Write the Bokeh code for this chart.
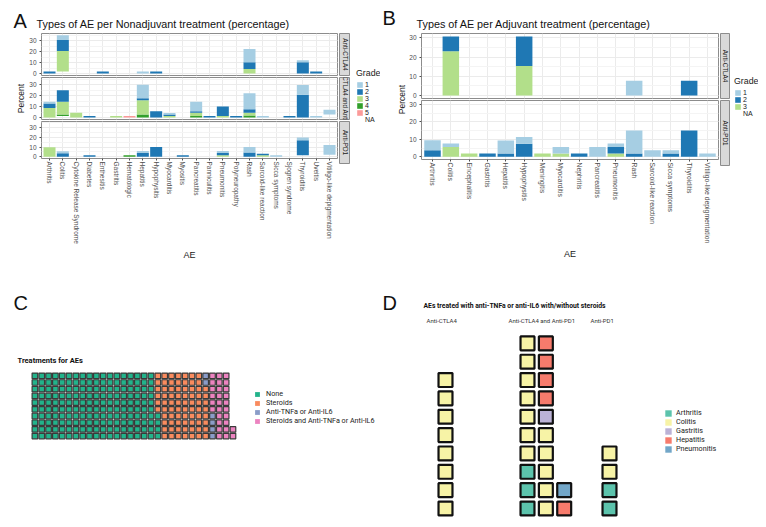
import numpy as np
from bokeh.plotting import figure
from bokeh.models import (ColumnDataSource, FactorRange, Range1d, Legend, LegendItem,
                          SingleIntervalTicker, Spacer)
from bokeh.layouts import row, column
from bokeh.embed import file_html
from bokeh.resources import INLINE
from bokeh.core.properties import value

# ---------------------------------------------------------------- data
ae_nonadjuvant = ["Arthritis", "Colitis", "Cytokine Release Syndrome", "Diabetes", "Enthesitis",
                  "Gastritis", "Hematologic", "Hepatitis", "Hypophysitis", "Myocarditis",
                  "Myositis", "Pancreatitis", "Panniculitis", "Pneumonitis", "Polyneuropathy",
                  "Rash", "Sarcoid-like reaction", "Sicca symptoms", "Sjogren syndrome",
                  "Thyroiditis", "Uveitis", "Vitiligo-like depigmentation"]
ae_adjuvant = ["Arthritis", "Colitis", "Encephalitis", "Gastritis", "Hepatitis", "Hypophysitis",
               "Meningitis", "Myocarditis", "Nephritis", "Pancreatitis", "Pneumonitis", "Rash",
               "Sarcoid-like reaction", "Sicca symptoms", "Thyroiditis",
               "Vitiligo-like depigmentation"]

grades_nonadj = ["1", "2", "3", "4", "5", "NA"]
grades_adj = ["1", "2", "3", "NA"]
grade_palette = ["#A6CEE3", "#1F78B4", "#B2DF8A", "#33A02C", "#FB9A99", "#FFFFFF"]

# facet strip labels (the middle one is shown cropped by its strip, as in the source)
strips_nonadj = ["Anti-CTLA4", "CTLA4 and Anti", "Anti-PD1"]
strips_adj = ["Anti-CTLA4", "Anti-PD1"]

# (AE, grade, percent)
nonadj_anti_ctla4 = [
    ("Arthritis", "2", 2.0),
    ("Colitis", "NA", 2.0), ("Colitis", "3", 18.4), ("Colitis", "2", 10.2), ("Colitis", "1", 4.1),
    ("Enthesitis", "2", 2.0),
    ("Hepatitis", "1", 2.0),
    ("Hypophysitis", "2", 2.0),
    ("Rash", "3", 4.1), ("Rash", "2", 6.1), ("Rash", "1", 12.2),
    ("Thyroiditis", "2", 10.2), ("Thyroiditis", "1", 2.0),
    ("Uveitis", "2", 2.0),
]
nonadj_combo = [
    ("Arthritis", "3", 8.6), ("Arthritis", "2", 4.3), ("Arthritis", "1", 1.4),
    ("Colitis", "NA", 1.4), ("Colitis", "4", 1.4), ("Colitis", "3", 11.5), ("Colitis", "2", 10.5),
    ("Cytokine Release Syndrome", "3", 4.3),
    ("Diabetes", "2", 1.4),
    ("Gastritis", "3", 1.4),
    ("Hematologic", "5", 1.4),
    ("Hepatitis", "4", 2.9), ("Hepatitis", "3", 12.9), ("Hepatitis", "2", 1.8), ("Hepatitis", "1", 12.3),
    ("Hypophysitis", "2", 5.7),
    ("Myocarditis", "3", 1.4), ("Myocarditis", "2", 1.4), ("Myocarditis", "1", 1.4),
    ("Pancreatitis", "4", 1.4), ("Pancreatitis", "3", 2.9), ("Pancreatitis", "2", 1.4),
    ("Pancreatitis", "1", 8.6),
    ("Panniculitis", "2", 1.4),
    ("Pneumonitis", "3", 1.4), ("Pneumonitis", "2", 8.6),
    ("Polyneuropathy", "2", 1.4),
    ("Rash", "4", 2.0), ("Rash", "3", 2.5), ("Rash", "2", 3.0), ("Rash", "1", 14.6),
    ("Sarcoid-like reaction", "1", 1.4),
    ("Sjogren syndrome", "2", 1.4),
    ("Thyroiditis", "2", 20.7), ("Thyroiditis", "1", 9.0),
    ("Uveitis", "1", 1.4),
    ("Vitiligo-like depigmentation", "NA", 2.9), ("Vitiligo-like depigmentation", "1", 4.3),
]
nonadj_anti_pd1 = [
    ("Arthritis", "3", 9.9),
    ("Colitis", "2", 3.8), ("Colitis", "1", 2.0),
    ("Diabetes", "2", 1.7),
    ("Hematologic", "4", 1.7),
    ("Hepatitis", "2", 3.9), ("Hepatitis", "1", 2.0),
    ("Hypophysitis", "2", 10.0),
    ("Myositis", "2", 1.7),
    ("Pneumonitis", "3", 1.7), ("Pneumonitis", "2", 2.3), ("Pneumonitis", "1", 2.0),
    ("Rash", "2", 4.5), ("Rash", "1", 5.5),
    ("Sarcoid-like reaction", "3", 1.5), ("Sarcoid-like reaction", "2", 1.7),
    ("Sicca symptoms", "1", 1.7),
    ("Thyroiditis", "NA", 1.7), ("Thyroiditis", "2", 15.5), ("Thyroiditis", "1", 2.6),
    ("Vitiligo-like depigmentation", "NA", 2.0), ("Vitiligo-like depigmentation", "1", 10.3),
]
adj_anti_ctla4 = [
    ("Colitis", "3", 23.1), ("Colitis", "2", 7.7),
    ("Hypophysitis", "3", 15.4), ("Hypophysitis", "2", 15.4),
    ("Rash", "1", 7.7),
    ("Thyroiditis", "2", 7.7),
]
adj_anti_pd1 = [
    ("Arthritis", "2", 3.8), ("Arthritis", "1", 5.7),
    ("Colitis", "3", 5.7), ("Colitis", "1", 1.9),
    ("Encephalitis", "3", 1.9),
    ("Gastritis", "2", 1.9),
    ("Hepatitis", "2", 1.9), ("Hepatitis", "1", 7.5),
    ("Hypophysitis", "2", 7.5), ("Hypophysitis", "1", 3.8),
    ("Meningitis", "3", 1.9),
    ("Myocarditis", "3", 1.9), ("Myocarditis", "1", 3.8),
    ("Nephritis", "2", 1.9),
    ("Pancreatitis", "1", 5.7),
    ("Pneumonitis", "3", 1.9), ("Pneumonitis", "2", 3.8), ("Pneumonitis", "1", 1.9),
    ("Rash", "2", 1.9), ("Rash", "1", 13.2),
    ("Sarcoid-like reaction", "1", 3.8),
    ("Sicca symptoms", "2", 1.9), ("Sicca symptoms", "1", 1.9),
    ("Thyroiditis", "2", 15.1),
    ("Vitiligo-like depigmentation", "1", 1.9),
]

treatments = ["None", "Steroids", "Anti-TNFa or Anti-IL6", "Steroids and Anti-TNFa or Anti-IL6"]
treatment_counts = [184, 74, 6, 28]
treatment_colors = ["#22B38B", "#F98B5E", "#8A9CC8", "#EC83C0"]

d_groups = ["Anti-CTLA4", "Anti-CTLA4 and Anti-PD1", "Anti-PD1"]
d_aes = ["Arthritis", "Colitis", "Gastritis", "Hepatitis", "Pneumonitis"]
d_counts_anti_ctla4 = [0, 8, 0, 0, 0]
d_counts_combo = [3, 12, 1, 5, 1]
d_counts_anti_pd1 = [2, 2, 0, 0, 0]
d_colors = ["#5CC3AC", "#F7F3A6", "#BBB2D6", "#F77B6C", "#72A6C8"]

# ---------------------------------------------------------------- helpers
FONT = "Liberation Sans"
WFONT = "Roboto"
COMMON = dict(output_backend="svg", toolbar_location=None, border_fill_color="white", title=None)
NAN = [np.nan]


def canvas(w, h, bg="white", outline=None, bottom=0):
    c = figure(width=w, height=h, x_range=Range1d(0, w), y_range=Range1d(0, h - bottom),
               x_axis_location=None, y_axis_location=None, min_border=0,
               min_border_bottom=bottom, background_fill_color=bg,
               outline_line_color=outline, **COMMON)
    c.grid.visible = False
    return c


def stack_source(cats, recs, levels):
    data = {"AE": list(cats)}
    for g in levels:
        data["g" + g] = [0.0] * len(cats)
    for ae, g, v in recs:
        data["g" + g][cats.index(ae)] += v
    return ColumnDataSource(data)


def facet(cats, recs, levels, yr, frame_w, frame_h, left, bottom, show_x, xfont):
    p = figure(x_range=FactorRange(factors=cats, range_padding=0.1, range_padding_units="absolute"),
               y_range=Range1d(*yr), width=left + frame_w + 2, height=frame_h + bottom,
               min_border_left=left, min_border_right=2, min_border_top=0,
               min_border_bottom=bottom, background_fill_color="white",
               outline_line_color="#8c8c8c", **COMMON)
    src = stack_source(cats, recs, levels)
    order = list(reversed(levels))
    cols = [grade_palette[grades_nonadj.index(g)] for g in order]
    alphas = [0.0 if g == "NA" else 1.0 for g in order]
    p.vbar_stack(["g" + g for g in order], x="AE", width=0.9, source=src,
                 fill_color=cols, fill_alpha=alphas, line_color=None)
    tk = SingleIntervalTicker(interval=10, num_minor_ticks=2)
    p.yaxis.ticker = tk
    p.yaxis.axis_line_color = None
    p.yaxis.major_tick_out = 2
    p.yaxis.major_tick_in = 0
    p.yaxis.minor_tick_line_color = None
    p.yaxis.major_tick_line_color = "#4d4d4d"
    p.yaxis.major_label_standoff = 1
    p.yaxis.major_label_text_font = FONT
    p.yaxis.major_label_text_font_size = "6.5px"
    p.yaxis.major_label_text_color = "#4d4d4d"
    p.xgrid.grid_line_color = "#ebebeb"
    p.ygrid.grid_line_color = "#ebebeb"
    p.ygrid.minor_grid_line_color = "#f4f4f4"
    if show_x:
        p.xaxis.axis_line_color = None
        p.xaxis.major_tick_out = 2
        p.xaxis.major_tick_in = 0
        p.xaxis.major_tick_line_color = "#4d4d4d"
        p.xaxis.major_label_orientation = "vertical"
        p.xaxis.major_label_standoff = 1
        p.xaxis.major_label_text_font = FONT
        p.xaxis.major_label_text_font_size = xfont
        p.xaxis.major_label_text_color = "#4d4d4d"
        p.xaxis.axis_label = "AE"
        p.xaxis.axis_label_standoff = 3
        p.xaxis.axis_label_text_font = FONT
        p.xaxis.axis_label_text_font_size = "9px"
        p.xaxis.axis_label_text_font_style = "normal"
        p.xaxis.axis_label_text_color = "#1a1a1a"
    else:
        p.xaxis.visible = False
    return p


def strip(text, w, frame_h, bottom):
    s = canvas(w, frame_h + bottom, bg="#d9d9d9", outline="#8c8c8c", bottom=bottom)
    s.x_range = Range1d(0, 1)
    s.y_range = Range1d(0, 1)
    s.text(x=[0.5], y=[0.5], text=[text], angle=-np.pi / 2, text_align="center",
           text_baseline="middle", text_font=value(FONT), text_font_size="6.3px",
           text_color="#1a1a1a")
    return s


def grade_legend(w, h, levels, loc):
    lf = canvas(w, h)
    items = []
    for g in levels:
        c = grade_palette[grades_nonadj.index(g)]
        r = lf.vbar(x=NAN, top=NAN, width=1, fill_color=c,
                    fill_alpha=0.0 if g == "NA" else 1.0, line_color=None)
        items.append(LegendItem(label=g, renderers=[r]))
    leg = Legend(items=items, title="Grade", location=loc, glyph_width=7, glyph_height=7,
                 label_height=7, spacing=0, padding=0, margin=0, border_line_color=None,
                 background_fill_alpha=0, label_standoff=2, title_standoff=3,
                 label_text_font=FONT, label_text_font_size="7px", label_text_color="#1a1a1a",
                 title_text_font=FONT, title_text_font_size="8.8px",
                 title_text_font_style="normal", title_text_color="#1a1a1a")
    lf.add_layout(leg, "center")
    return lf


def ylabel_fig(w, h, xc, yc):
    f = canvas(w, h)
    f.text(x=[xc], y=[yc], text=["Percent"], angle=np.pi / 2, text_align="center",
           text_baseline="middle", text_font=value(FONT), text_font_size="8.5px",
           text_color="#1a1a1a")
    return f


def header(w, h, letter, lx, ly, title, tx, ty):
    f = canvas(w, h)
    f.text(x=[lx], y=[ly], text=[letter], text_font=value(FONT), text_font_size="20px",
           text_baseline="middle", text_color="#111111")
    f.text(x=[tx], y=[ty], text=[title], text_font=value(FONT), text_font_size="10.8px",
           text_baseline="middle", text_color="#111111")
    return f


# ---------------------------------------------------------------- panel A
yrA = (-1.74, 36.4)
fA1 = facet(ae_nonadjuvant, nonadj_anti_ctla4, grades_nonadj, yrA, 300, 42, 11, 2, False, "6.5px")
fA2 = facet(ae_nonadjuvant, nonadj_combo, grades_nonadj, yrA, 300, 42, 11, 2, False, "6.5px")
fA3 = facet(ae_nonadjuvant, nonadj_anti_pd1, grades_nonadj, yrA, 300, 42, 11, 99, True, "6.5px")
sA = column(strip(strips_nonadj[0], 11, 42, 2), strip(strips_nonadj[1], 11, 42, 2),
            strip(strips_nonadj[2], 11, 42, 99))
panelA = column(header(372, 33, "A", 5, 13, "Types of AE per Nonadjuvant treatment (percentage)", 28, 9.5),
                row(ylabel_fig(18, 229, 12, 164), column(fA1, fA2, fA3), sA,
                    grade_legend(30, 229, grades_nonadj, (6, 139))))

# ---------------------------------------------------------------- panel B
yrB = (-1.54, 32.3)
fB1 = facet(ae_adjuvant, adj_anti_ctla4, grades_adj, yrB, 301, 65, 11, 2, False, "6.8px")
fB2 = facet(ae_adjuvant, adj_anti_pd1, grades_adj, yrB, 301, 65, 11, 97, True, "6.8px")
sB = column(strip(strips_adj[0], 10, 65, 2), strip(strips_adj[1], 10, 65, 97))
panelB = column(header(378, 33, "B", 2, 15.5, "Types of AE per Adjuvant treatment (percentage)", 36, 9.5),
                row(ylabel_fig(26, 229, 21, 163), column(fB1, fB2), sB,
                    grade_legend(28, 229, grades_adj, (4, 145))))

# ---------------------------------------------------------------- panel C (waffle)
def waffle(counts, nrows):
    cols, rows, cats = [], [], []
    idx = 0
    for k, n in enumerate(counts):
        for _ in range(n):
            cols.append(idx // nrows + 1)
            rows.append(idx % nrows + 1)
            cats.append(k)
            idx += 1
    return cols, rows, cats


ux, uy = 6.83, 6.7
cx0 = 1 - (34.4 - 8) / ux
cy0 = 1 - (519 - 435.6) / uy
cf = figure(width=372, height=257, x_range=Range1d(cx0, cx0 + 372 / ux),
            y_range=Range1d(cy0, cy0 + 257 / uy), x_axis_location=None, y_axis_location=None,
            min_border=0, outline_line_color=None, **COMMON)
cf.grid.visible = False
wc, wr, wk = waffle(treatment_counts, 10)
csrc = ColumnDataSource(dict(col=wc, row=wr, color=[treatment_colors[k] for k in wk]))
cf.rect(x="col", y="row", width=0.82, height=0.82, fill_color="color", line_color="#3a3a3a",
        line_width=1.2, source=csrc)


def cxy(xr, yr):
    return cx0 + (xr - 8) / ux, cy0 + (519 - yr) / uy


lx, ly = cxy(13, 302.5)
cf.text(x=[lx], y=[ly], text=["C"], text_font=value(FONT), text_font_size="20px",
        text_baseline="middle", text_color="#111111")
tx, ty = cxy(17, 359.5)
cf.text(x=[tx], y=[ty], text=["Treatments for AEs"], text_font=value(WFONT),
        text_font_size="7.5px", text_font_style="bold", text_baseline="middle",
        text_color="#111111")
citems = []
for name, col in zip(treatments, treatment_colors):
    r = cf.rect(x=NAN, y=NAN, width=1, height=1, fill_color=col, line_color=None)
    citems.append(LegendItem(label=name, renderers=[r]))
cf.add_layout(Legend(items=citems, location=(246, 94), glyph_width=6, glyph_height=6,
                     label_height=8, spacing=0, padding=0, margin=0, border_line_color=None,
                     background_fill_alpha=0, label_standoff=6, label_text_font=WFONT,
                     label_text_font_size="7.2px", label_text_line_height=1.0,
                     label_text_color="#222222"), "center")

# ---------------------------------------------------------------- panel D (waffle facets)
u = 18.35
dx0 = 1 - (445 - 380) / u
dy0 = 1 - (519 - 508) / u
facet_step = (527 - 445) / u
df = figure(width=378, height=257, x_range=Range1d(dx0, dx0 + 378 / u),
            y_range=Range1d(dy0, dy0 + 257 / u), x_axis_location=None, y_axis_location=None,
            min_border=0, outline_line_color=None, **COMMON)
df.grid.visible = False
xs, ys, fc = [], [], []
for gi, counts in enumerate([d_counts_anti_ctla4, d_counts_combo, d_counts_anti_pd1]):
    c_, r_, k_ = waffle(counts, 10)
    xs += [gi * facet_step + c for c in c_]
    ys += r_
    fc += [d_colors[k] for k in k_]
df.rect(x=xs, y=ys, width=0.76, height=0.76, fill_color=fc, line_color="#111111", line_width=2.2)


def dxy(xr, yr):
    return dx0 + (xr - 380) / u, dy0 + (519 - yr) / u


lx, ly = dxy(382, 302.5)
df.text(x=[lx], y=[ly], text=["D"], text_font=value(FONT), text_font_size="20px",
        text_baseline="middle", text_color="#111111")
tx, ty = dxy(423, 305.5)
df.text(x=[tx], y=[ty], text=["AEs treated with anti-TNFa or anti-IL6 with/without steroids"],
        text_font=value(WFONT), text_font_size="6.8px", text_font_style="bold",
        text_baseline="middle", text_color="#111111")
for gi, g in enumerate(d_groups):
    gx, gy = dxy(426 + gi * (527 - 445), 320)
    df.text(x=[gx], y=[gy], text=[g], text_font=value(WFONT), text_font_size="6px",
            text_baseline="middle", text_color="#333333")
ditems = []
for name, col in zip(d_aes, d_colors):
    r = df.rect(x=NAN, y=NAN, width=1, height=1, fill_color=col, line_color=None)
    ditems.append(LegendItem(label=name, renderers=[r]))
df.add_layout(Legend(items=ditems, location=(284, 66), glyph_width=8, glyph_height=8,
                     label_height=8, spacing=0, padding=0, margin=0, border_line_color=None,
                     background_fill_alpha=0, label_standoff=4, label_text_font=WFONT,
                     label_text_font_size="7.2px", label_text_line_height=1.0,
                     label_text_color="#222222"), "center")

# ---------------------------------------------------------------- page
content = column(row(panelA, panelB), row(cf, df))
page = row(Spacer(width=8, height=519), content)
open("out.html", "w").write(file_html(page, INLINE))
